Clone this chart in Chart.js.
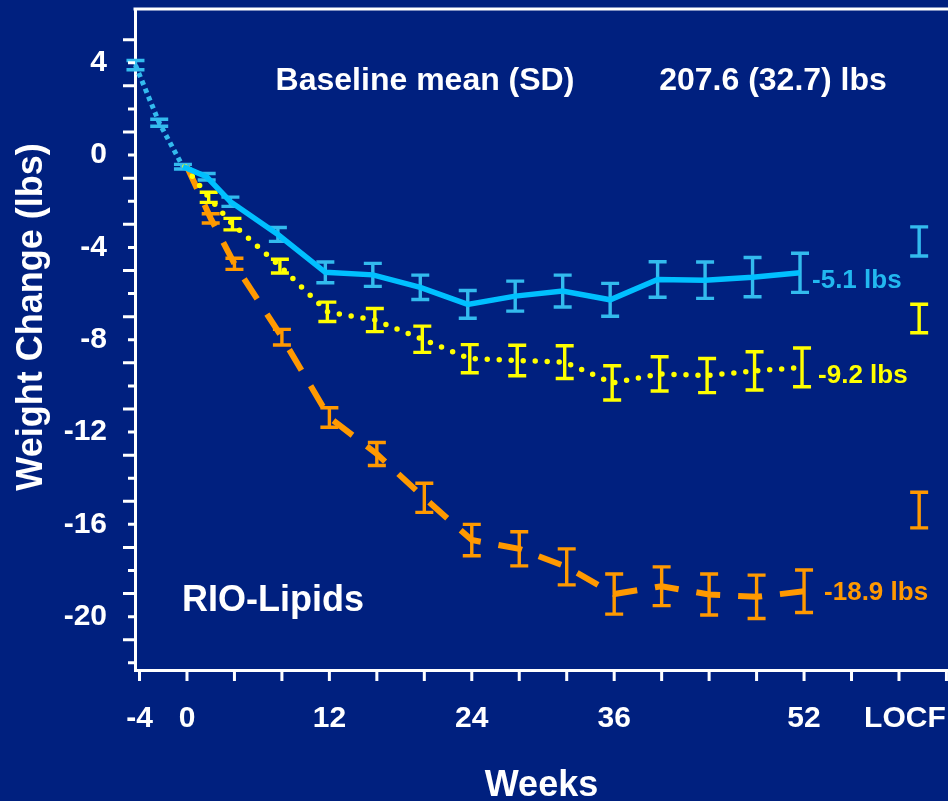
<!DOCTYPE html>
<html>
<head>
<meta charset="utf-8">
<title>RIO-Lipids weight change</title>
<script src="https://cdn.jsdelivr.net/npm/chart.js@4.4.0/dist/chart.umd.min.js"></script>
<style>
  html, body { margin: 0; padding: 0; background: #00207f; }
</style>
</head>
<body>
<canvas id="weightChart" width="948" height="801"></canvas>
<script>
// run-in period, shared by all groups
const runInWeeks = [-4, -2, 0];
const runInMean = [3.9, 1.4, -0.5];
const runInErr = [0.2, 0.15, 0.1];

// treatment period (mean change and SE, lbs)
const weeks = [0, 2, 4, 8, 12, 16, 20, 24, 28, 32, 36, 40, 44, 48, 52];
const placeboMean = [-0.5, -0.94, -2.02, -3.44, -5.08, -5.19, -5.73, -6.47, -6.11, -5.89, -6.27, -5.39, -5.42, -5.29, -5.1];
const placeboErr = [null, 0.14, 0.2, 0.3, 0.45, 0.5, 0.53, 0.6, 0.65, 0.69, 0.71, 0.77, 0.79, 0.85, 0.85];
const rimo5Mean = [-0.5, -1.83, -2.99, -4.81, -6.79, -7.15, -7.98, -8.82, -8.9, -8.97, -9.87, -9.48, -9.55, -9.35, -9.2];
const rimo5Err = [null, 0.22, 0.25, 0.3, 0.42, 0.5, 0.57, 0.61, 0.66, 0.71, 0.74, 0.74, 0.74, 0.83, 0.84];
const rimo20Mean = [-0.5, -2.74, -4.71, -7.89, -11.37, -12.95, -14.85, -16.68, -17.06, -17.84, -19.02, -18.68, -19.04, -19.14, -18.9];
const rimo20Err = [null, 0.2, 0.24, 0.34, 0.42, 0.5, 0.63, 0.68, 0.74, 0.78, 0.87, 0.84, 0.89, 0.94, 0.92];

// last observation carried forward (placebo, 5 mg, 20 mg)
const locfWeek = 61.7;
const locfMean = [-3.74, -7.08, -15.38];
const locfErr = [0.63, 0.62, 0.77];

const xTickValues = [-4, 0, 12, 24, 36, 52, 60.5];
const xTickLabels = ["-4", "0", "12", "24", "36", "52", "LOCF"];
const yTickValues = [4, 0, -4, -8, -12, -16, -20];

const FONT = "'Liberation Sans', Arial, sans-serif";
const BG = "#00207f";
const BLUE = "#00c0ff";
const BLUE_BAR = "#33bbee";
const YELLOW = "#ffff00";
const ORANGE = "#ff9900";

// small sideways shift so the error bars of the groups don't sit on each other
function points(xs, ys, shift) {
  return xs.map((w, i) => ({ x: w + shift, y: ys[i] }));
}

// minor tick marks: every 4 weeks, every 1 lb
const xMarks = [];
for (let w = -4; w <= 64; w += 4) xMarks.push(w);
const yMarks = [];
for (let v = 5; v >= -22; v--) yMarks.push(v);

const errorBars = {
  id: "errorBars",
  beforeDatasetsDraw(chart) {
    const { ctx, scales: { x, y } } = chart;
    chart.data.datasets.forEach((ds) => {
      if (!ds.errors) return;
      ctx.save();
      ctx.strokeStyle = ds.barColor;
      ctx.lineWidth = 3.4;
      ds.data.forEach((p, i) => {
        const e = ds.errors[i];
        if (e == null) return;
        const px = x.getPixelForValue(p.x);
        const top = y.getPixelForValue(p.y + e);
        const bot = y.getPixelForValue(p.y - e);
        ctx.beginPath();
        ctx.moveTo(px, top);
        ctx.lineTo(px, bot);
        ctx.moveTo(px - 9, top);
        ctx.lineTo(px + 9, top);
        ctx.moveTo(px - 9, bot);
        ctx.lineTo(px + 9, bot);
        ctx.stroke();
      });
      ctx.restore();
    });
  }
};

const decorations = {
  id: "decorations",
  beforeDraw(chart) {
    const ctx = chart.ctx;
    ctx.save();
    ctx.fillStyle = BG;
    ctx.fillRect(0, 0, chart.width, chart.height);
    ctx.restore();
  },
  afterDraw(chart) {
    const { ctx, chartArea, scales: { x, y } } = chart;
    ctx.save();
    ctx.strokeStyle = "#ffffff";
    ctx.lineWidth = 3;

    // top frame line
    ctx.beginPath();
    ctx.moveTo(chartArea.left - 1.5, chartArea.top);
    ctx.lineTo(chart.width, chartArea.top);
    ctx.stroke();

    // tick marks
    ctx.beginPath();
    xMarks.forEach((w) => {
      const px = x.getPixelForValue(w);
      ctx.moveTo(px, chartArea.bottom);
      ctx.lineTo(px, chartArea.bottom + 11);
    });
    yMarks.forEach((v) => {
      const py = y.getPixelForValue(v);
      const len = Math.abs(v) % 2 === 1 ? 12 : 7;
      ctx.moveTo(chartArea.left, py);
      ctx.lineTo(chartArea.left - len, py);
    });
    ctx.stroke();

    ctx.fillStyle = "#ffffff";
    ctx.textBaseline = "middle";

    // y axis title
    ctx.save();
    ctx.translate(32, 317);
    ctx.rotate(-Math.PI / 2);
    ctx.textAlign = "center";
    ctx.font = "bold 36px " + FONT;
    ctx.fillText("Weight Change (lbs)", 0, 0);
    ctx.restore();

    ctx.font = "bold 32px " + FONT;
    ctx.textAlign = "center";
    ctx.fillText("Baseline mean (SD)", 425, 81);
    ctx.fillText("207.6 (32.7) lbs", 773, 81);

    ctx.textAlign = "left";
    ctx.font = "bold 36px " + FONT;
    ctx.fillText("RIO-Lipids", 182, 601);

    // value at week 52 next to each line
    ctx.font = "bold 26px " + FONT;
    chart.data.datasets.forEach((ds) => {
      if (!ds.endLabel) return;
      const last = ds.data[ds.data.length - 1];
      ctx.fillStyle = ds.labelColor;
      ctx.fillText(last.y.toFixed(1) + " lbs",
        x.getPixelForValue(last.x) + ds.labelGap,
        y.getPixelForValue(last.y) + ds.labelDy);
    });
    ctx.restore();
  }
};

const ctx = document.getElementById("weightChart").getContext("2d");
const chart = new Chart(ctx, {
  type: "line",
  data: {
    datasets: [
      {
        label: "Placebo",
        data: points(weeks, placeboMean, -0.34),
        errors: placeboErr,
        borderColor: BLUE,
        barColor: BLUE_BAR,
        borderWidth: 5.5,
        endLabel: true, labelColor: "#22b8f0", labelGap: 12, labelDy: 8,
      },
      {
        label: "Rimonabant 5 mg",
        data: points(weeks, rimo5Mean, -0.17),
        errors: rimo5Err,
        borderColor: YELLOW,
        barColor: YELLOW,
        borderWidth: 5.5,
        borderDash: [0, 12],
        borderCapStyle: "round",
        endLabel: true, labelColor: YELLOW, labelGap: 16, labelDy: 8,
      },
      {
        label: "Rimonabant 20 mg",
        data: points(weeks, rimo20Mean, 0),
        errors: rimo20Err,
        borderColor: ORANGE,
        barColor: ORANGE,
        borderWidth: 6,
        borderDash: [24, 18],
        endLabel: true, labelColor: ORANGE, labelGap: 20, labelDy: 2,
      },
      {
        label: "Run-in",
        data: points(runInWeeks, runInMean, -0.34),
        errors: runInErr,
        borderColor: BLUE_BAR,
        barColor: BLUE_BAR,
        borderWidth: 5,
        borderDash: [4.5, 4],
      },
      {
        label: "LOCF placebo",
        data: [{ x: locfWeek, y: locfMean[0] }],
        errors: [locfErr[0]],
        barColor: BLUE_BAR,
        showLine: false,
      },
      {
        label: "LOCF 5 mg",
        data: [{ x: locfWeek, y: locfMean[1] }],
        errors: [locfErr[1]],
        barColor: YELLOW,
        showLine: false,
      },
      {
        label: "LOCF 20 mg",
        data: [{ x: locfWeek, y: locfMean[2] }],
        errors: [locfErr[2]],
        barColor: ORANGE,
        showLine: false,
      },
    ],
  },
  options: {
    responsive: false,
    animation: false,
    layout: { padding: { top: 9, right: 0, bottom: 0, left: 0 } },
    elements: {
      point: { radius: 0, hoverRadius: 0 },
      line: { tension: 0 },
    },
    datasets: { line: { clip: false } },
    plugins: {
      legend: { display: false },
      tooltip: { enabled: false },
    },
    scales: {
      x: {
        type: "linear",
        min: -4.38,
        max: 64.13,
        grid: { display: false, drawTicks: false },
        border: { display: true, color: "#ffffff", width: 3 },
        afterBuildTicks: (s) => { s.ticks = xTickValues.map((v) => ({ value: v })); },
        ticks: {
          color: "#ffffff",
          font: { family: FONT, size: 30, weight: "bold" },
          padding: 31,
          autoSkip: false,
          maxRotation: 0,
          callback: (v, i) => xTickLabels[i],
        },
        title: {
          display: true,
          text: "Weeks",
          color: "#ffffff",
          font: { family: FONT, size: 36, weight: "bold", lineHeight: 0.85 },
          padding: 0,
        },
        afterFit: (s) => { s.height = 131; s.paddingLeft = 0; s.paddingRight = 0; },
      },
      y: {
        min: -22.31,
        max: 6.33,
        grid: { display: false, drawTicks: false },
        border: { display: true, color: "#ffffff", width: 3 },
        afterBuildTicks: (s) => { s.ticks = yTickValues.map((v) => ({ value: v })); },
        ticks: {
          color: "#ffffff",
          font: { family: FONT, size: 30, weight: "bold" },
          padding: 28,
        },
        afterFit: (s) => { s.width = 135; s.paddingTop = 0; s.paddingBottom = 0; },
      },
    },
  },
  plugins: [decorations, errorBars],
});
</script>
</body>
</html>
